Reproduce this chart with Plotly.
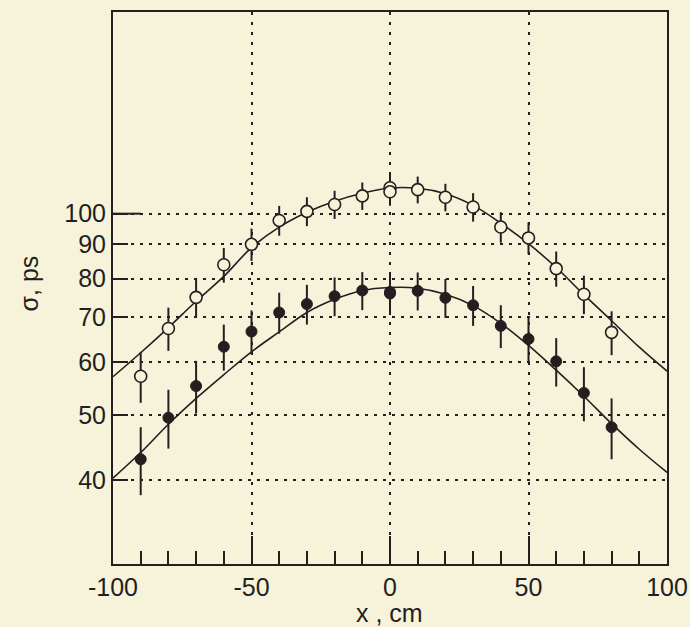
import plotly.graph_objects as go

# measured points
x_pts = [-90, -80, -70, -60, -50, -40, -30, -20, -10, 0, 0, 10, 20, 30, 40, 50, 60, 70, 80]
sigma_open = [57.2, 67.4, 75.0, 83.9, 90.0, 97.7, 100.8, 103.2, 106.3, 109.3, 107.8, 108.6, 105.8, 102.3, 95.5, 92.0, 82.8, 75.8, 66.5]
sigma_filled = [43.0, 49.6, 55.3, 63.3, 66.7, 71.2, 73.3, 75.3, 76.8, 76.4, 76.0, 76.7, 74.9, 73.0, 68.0, 65.0, 60.2, 54.0, 48.0]
err_open = [5.0] * len(x_pts)
err_filled = [5.0] * len(x_pts)

# fitted curves
x_fit = [-100, -90, -80, -70, -60, -50, -40, -30, -20, -10, 0, 10, 20, 30, 40, 50, 60, 70, 80, 90, 100]
fit_open = [57.1, 62.0, 67.6, 74.0, 80.6, 89.0, 95.5, 100.5, 104.4, 107.3, 109.2, 109.1, 107.1, 102.9, 96.8, 90.2, 83.1, 75.7, 69.2, 63.2, 58.2]
fit_filled = [40.3, 44.0, 48.5, 53.0, 57.5, 62.2, 66.6, 71.2, 74.5, 76.8, 77.6, 77.4, 75.8, 72.9, 68.6, 63.6, 58.4, 53.4, 48.6, 44.5, 41.1]

y_ticks = [40, 50, 60, 70, 80, 90, 100]

BG = "#F7F3DB"
INK = "#231F20"
FONT = "Liberation Sans, Arial, sans-serif"

fig = go.Figure()

fig.add_trace(go.Scatter(x=x_fit, y=fit_open, mode="lines", line=dict(color=INK, width=1.6, shape="spline"),
                         hoverinfo="skip", showlegend=False))
fig.add_trace(go.Scatter(x=x_fit, y=fit_filled, mode="lines", line=dict(color=INK, width=1.6, shape="spline"),
                         hoverinfo="skip", showlegend=False))

fig.add_trace(go.Scatter(
    x=x_pts, y=sigma_open, mode="markers",
    marker=dict(symbol="circle", size=12, color=BG, line=dict(color=INK, width=1.6)),
    error_y=dict(type="data", array=err_open, symmetric=True, color=INK, thickness=2, width=0),
    showlegend=False))
fig.add_trace(go.Scatter(
    x=x_pts, y=sigma_filled, mode="markers",
    marker=dict(symbol="circle", size=11, color=INK, line=dict(color=INK, width=1)),
    error_y=dict(type="data", array=err_filled, symmetric=True, color=INK, thickness=2, width=0),
    showlegend=False))

# longer tick at 100
fig.add_shape(type="line", xref="x domain", yref="y", x0=0, x1=28 / 554, y0=100, y1=100,
              line=dict(color=INK, width=2))

fig.update_xaxes(
    range=[-100, 100], tickmode="array", tickvals=[-100, -50, 0, 50, 100],
    ticktext=["-100", "-50", "0", "50", "100"],
    ticks="inside", ticklen=28, tickwidth=2, tickcolor=INK,
    minor=dict(tickmode="linear", tick0=-100, dtick=10, ticks="inside", ticklen=13, tickwidth=2, tickcolor=INK, showgrid=False),
    showline=True, linecolor=INK, linewidth=2, mirror=True,
    showgrid=True, gridcolor=INK, gridwidth=1.5, griddash="3px,7px",
    zeroline=False, tickfont=dict(family=FONT, size=25, color=INK),
    automargin=False,
)
fig.update_yaxes(
    type="log", range=[1.4771, 2.3010], tickmode="array", tickvals=y_ticks,
    ticktext=[str(v) for v in y_ticks],
    ticks="inside", ticklen=15, tickwidth=2, tickcolor=INK,
    showline=True, linecolor=INK, linewidth=2, mirror=True,
    showgrid=True, gridcolor=INK, gridwidth=1.5, griddash="3px,6px",
    zeroline=False, tickfont=dict(family=FONT, size=25, color=INK),
    automargin=False,
)

fig.add_annotation(text="σ, ps", xref="paper", yref="paper", x=-0.152, y=0.508, xanchor="center", yanchor="middle",
                   textangle=-90, showarrow=False, font=dict(family=FONT, size=25, color=INK))
fig.add_annotation(text="x , cm", xref="paper", yref="paper", x=0.499, y=-0.088, xanchor="center", yanchor="middle",
                   showarrow=False, font=dict(family=FONT, size=25, color=INK))

fig.update_layout(
    width=690, height=627,
    margin=dict(l=113, r=23, t=12, b=63),
    paper_bgcolor=BG, plot_bgcolor=BG,
    showlegend=False,
)

fig.write_html("out.html")
